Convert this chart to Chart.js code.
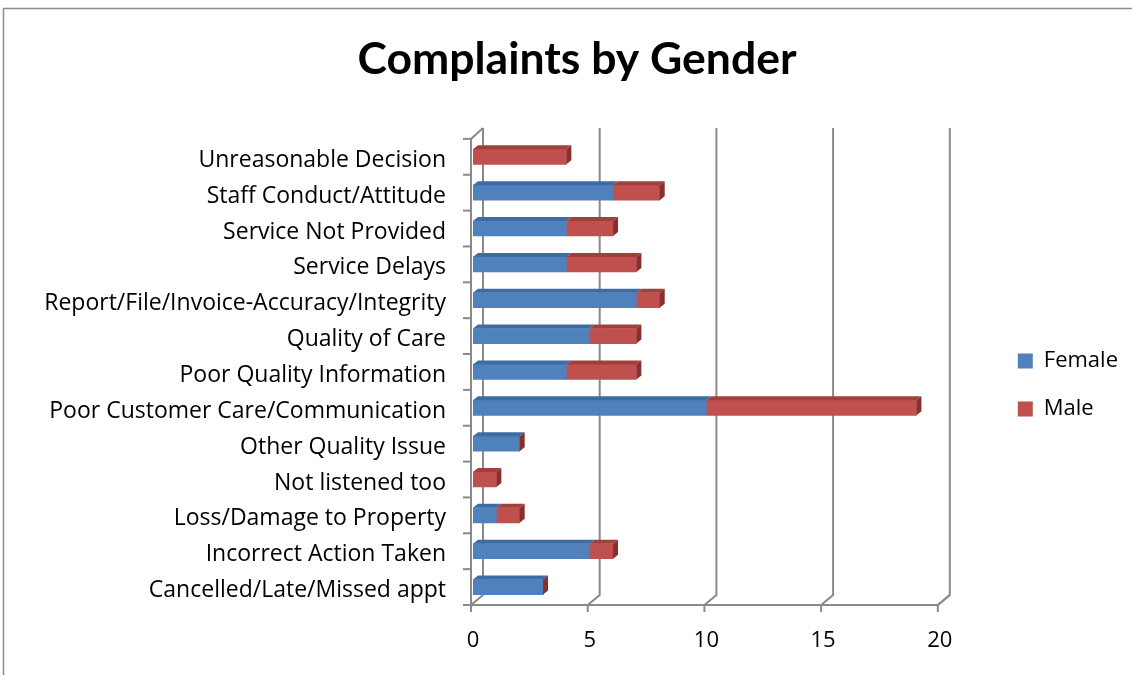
<!DOCTYPE html>
<html><head><meta charset="utf-8">
<script src="https://cdn.jsdelivr.net/npm/chart.js@4/dist/chart.umd.min.js"></script>
<style>html,body{margin:0;padding:0;background:#fff}#wrap{width:1132px;height:675px}</style>
</head><body><div id="wrap"><canvas id="c" width="1132" height="675"></canvas></div>
<script>
const categories = [
  'Unreasonable Decision',
  'Staff Conduct/Attitude',
  'Service Not Provided',
  'Service Delays',
  'Report/File/Invoice-Accuracy/Integrity',
  'Quality of Care',
  'Poor Quality Information',
  'Poor Customer Care/Communication',
  'Other Quality Issue',
  'Not listened too',
  'Loss/Damage to Property',
  'Incorrect Action Taken',
  'Cancelled/Late/Missed appt'
];
const femaleValues = [0, 6, 4, 4, 7, 5, 4, 10, 2, 0, 1, 5, 3];
const maleValues   = [4, 2, 2, 3, 1, 2, 3, 9, 0, 1, 1, 1, 0];
const seriesNames = ['Female', 'Male'];
const xMin = 0, xMax = 20, xStep = 5;

const FONT = '"Open Sans", Lato, sans-serif';
const TFONT = 'Lato, "Open Sans", sans-serif';
const GRID = '#8a8a8a';
const BLUE = '#4F81BD', RED = '#C0504D';
const BLUE_TOP = '#3D6BA4', RED_TOP = '#A13F3C', RED_SIDE = '#8A2F2D', BLUE_SIDE = '#33598A';

const deco = {
  id: 'deco',
  beforeDraw(chart) {
    const ctx = chart.ctx;
    ctx.save();
    ctx.strokeStyle = '#8c8c8c';
    ctx.lineWidth = 1.5;
    ctx.strokeRect(3.5, 8.5, 1200, 800);
    ctx.restore();
  },
  beforeDatasetsDraw(chart) {
    const ctx = chart.ctx, xs = chart.scales.x, ys = chart.scales.y, a = chart.chartArea;
    const dx = 12, dy = 10, fo = -2;
    ctx.save();
    ctx.strokeStyle = GRID;
    ctx.lineWidth = 2;
    ctx.lineCap = 'butt';
    xs.ticks.forEach(t => {
      const X = xs.getPixelForValue(t.value) + fo;
      ctx.beginPath();
      ctx.moveTo(X + dx, a.top - 11);
      ctx.lineTo(X + dx, a.bottom - dy);
      ctx.lineTo(X, a.bottom);
      ctx.stroke();
      ctx.beginPath();
      ctx.moveTo(X, a.bottom);
      ctx.lineTo(X, a.bottom + 7);
      ctx.stroke();
    });
    const L = a.left + fo;
    ctx.beginPath();
    ctx.moveTo(L + dx, a.top - 11);
    ctx.lineTo(L, a.top);
    ctx.lineTo(L, a.bottom);
    ctx.stroke();
    const R = xs.getPixelForValue(xMax) + fo;
    ctx.beginPath();
    ctx.moveTo(L - 8, a.bottom);
    ctx.lineTo(R, a.bottom);
    ctx.lineTo(R + dx, a.bottom - dy);
    ctx.stroke();
    const n = categories.length;
    const band = (a.bottom - a.top) / n;
    for (let i = 0; i <= n; i++) {
      const yv = ys.getPixelForValue(0) - band / 2 + i * band;
      ctx.beginPath();
      ctx.moveTo(L - 8, yv);
      ctx.lineTo(L, yv);
      ctx.stroke();
    }
    ctx.restore();
  },
  afterDatasetsDraw(chart) {
    const ctx = chart.ctx;
    const dx = 5, dy = 4;
    ctx.save();
    const tops = [BLUE_TOP, RED_TOP];
    const sides = [BLUE_SIDE, RED_SIDE];
    const last = chart.data.datasets.length - 1;
    chart.data.datasets.forEach((ds, di) => {
      const meta = chart.getDatasetMeta(di);
      meta.data.forEach(el => {
        const p = el.getProps(['x', 'y', 'base', 'height'], true);
        const top = p.y - p.height / 2, bot = p.y + p.height / 2;
        const x0 = Math.min(p.base, p.x), x1 = Math.max(p.base, p.x);
        if (x1 > x0) {
          ctx.fillStyle = tops[di];
          ctx.beginPath();
          ctx.moveTo(x0, top);
          ctx.lineTo(x1, top);
          ctx.lineTo(x1 + dx, top - dy);
          ctx.lineTo(x0 + dx, top - dy);
          ctx.closePath();
          ctx.fill();
        }
        if (di === last) {
          ctx.fillStyle = sides[di];
          ctx.beginPath();
          ctx.moveTo(x1, top);
          ctx.lineTo(x1 + dx, top - dy);
          ctx.lineTo(x1 + dx, bot - dy);
          ctx.lineTo(x1, bot);
          ctx.closePath();
          ctx.fill();
        }
      });
    });
    ctx.restore();
  }
};

new Chart(document.getElementById('c'), {
  type: 'bar',
  data: {
    labels: categories,
    datasets: [
      { label: seriesNames[0], data: femaleValues, backgroundColor: BLUE, borderWidth: 0, barThickness: 15 },
      { label: seriesNames[1], data: maleValues, backgroundColor: RED, borderWidth: 0, barThickness: 15 }
    ]
  },
  options: {
    indexAxis: 'y',
    responsive: false,
    animation: false,
    devicePixelRatio: 1,
    layout: { padding: { left: 26, right: 4, top: 0, bottom: 0 } },
    scales: {
      x: {
        stacked: true, min: xMin, max: xMax,
        ticks: { stepSize: xStep, color: '#000', padding: 23, font: { family: FONT, size: 22 } },
        grid: { display: false, drawTicks: false },
        border: { display: false },
        afterFit: s => { s.height = 70; }
      },
      y: {
        stacked: true,
        ticks: { color: '#000', padding: 27, labelOffset: 3.5, font: { family: FONT, size: 23 } },
        grid: { display: false, drawTicks: false },
        border: { display: false },
        afterFit: s => { s.width = 447; }
      },
      y2: {
        type: 'linear', position: 'right', display: true,
        ticks: { display: false },
        grid: { display: false, drawTicks: false },
        border: { display: false },
        afterFit: s => { s.width = 52; }
      }
    },
    plugins: {
      title: {
        display: true, text: 'Complaints by Gender', color: '#000',
        font: { family: TFONT, size: 44.5, weight: 'bold' },
        padding: { top: 33, bottom: 52.5 }
      },
      legend: {
        position: 'right', align: 'center', fullSize: false,
        title: { display: true, text: ' ', font: { size: 10 }, padding: 7 },
        labels: { boxWidth: 15, boxHeight: 15, padding: 26, color: '#000', font: { family: FONT, size: 22 } }
      },
      tooltip: { enabled: false }
    }
  },
  plugins: [deco]
});
</script></body></html>
